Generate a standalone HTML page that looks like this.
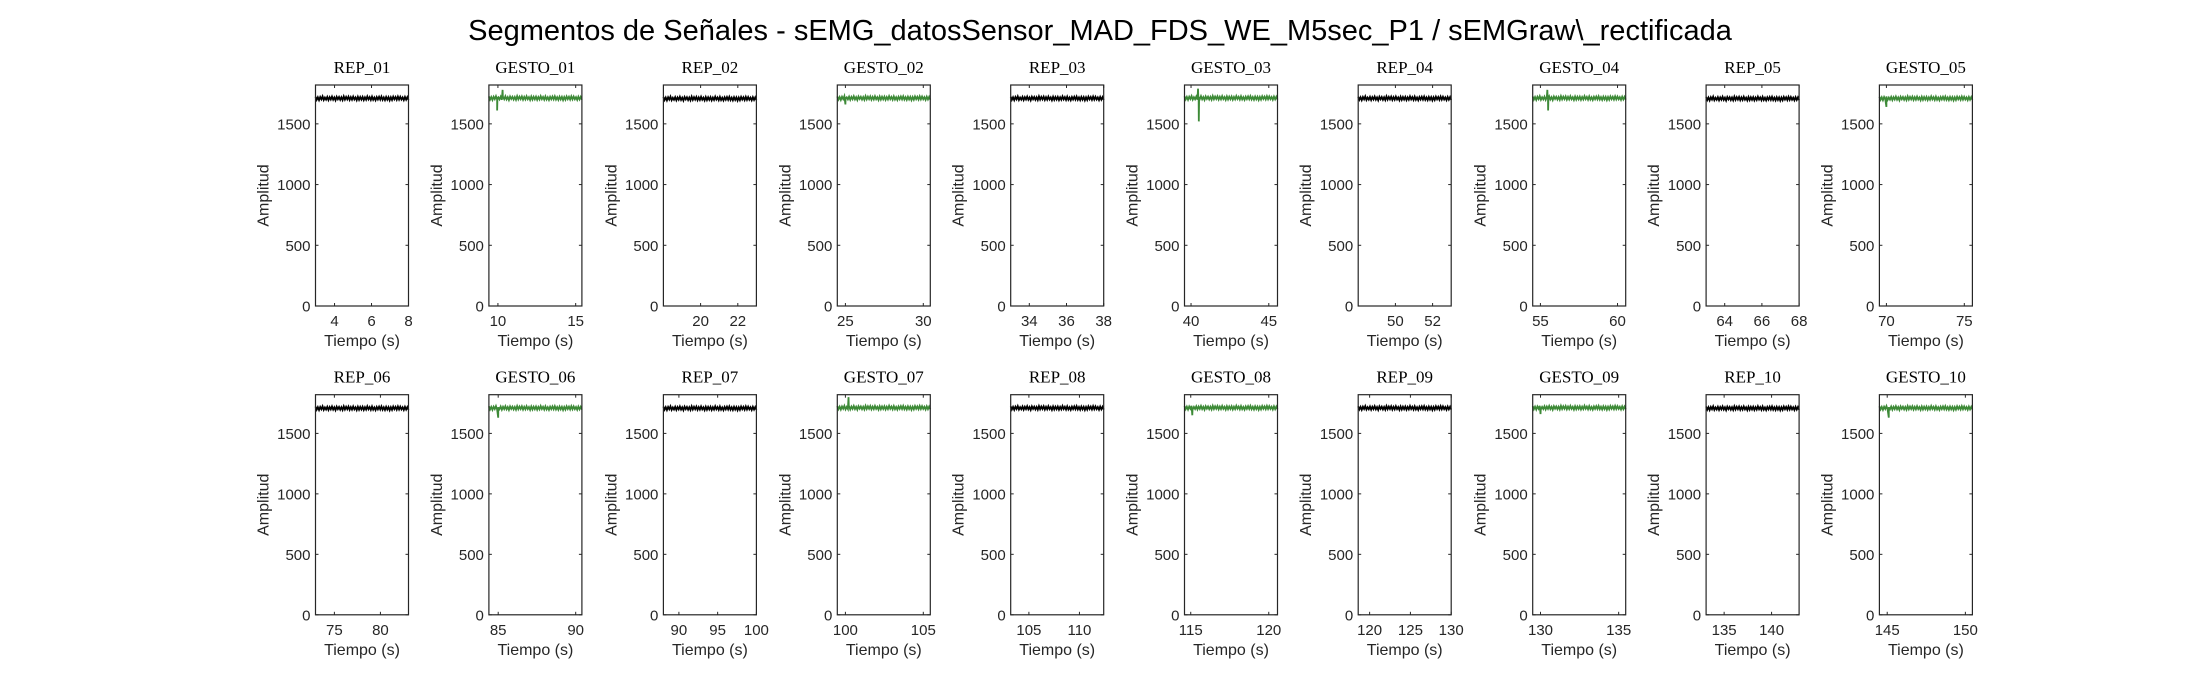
<!DOCTYPE html>
<html><head><meta charset="utf-8"><style>
body{margin:0;background:#fff;}
svg{display:block;font-family:"Liberation Sans",Arial,sans-serif;}
</style></head><body>
<svg id="fig" width="2187" height="688" viewBox="0 0 2187 688">
<text x="1100" y="40" font-size="29" text-anchor="middle" fill="#000">Segmentos de Señales - sEMG_datosSensor_MAD_FDS_WE_M5sec_P1 / sEMGraw\_rectificada</text>
<g id="panels"></g>
</svg>
<script>
const titles=["REP_01","GESTO_01","REP_02","GESTO_02","REP_03","GESTO_03","REP_04","GESTO_04","REP_05","GESTO_05","REP_06","GESTO_06","REP_07","GESTO_07","REP_08","GESTO_08","REP_09","GESTO_09","REP_10","GESTO_10"];
const xMins=[2.97,9.42,18,24.48,33,39.58,48,54.5,63,69.55,72.95,84.4,88,99.48,103.2,114.6,118.6,129.5,133.1,144.5];
const xMaxs=[8,15.4,23,30.45,38,45.56,53,60.53,68,75.52,83.05,90.4,100,105.45,112.4,120.56,130,135.45,142.9,150.45];
const xTicks=[[4,6,8],[10,15],[20,22],[25,30],[34,36,38],[40,45],[50,52],[55,60],[64,66,68],[70,75],[75,80],[85,90],[90,95,100],[100,105],[105,110],[115,120],[120,125,130],[130,135],[135,140],[145,150]];
const levels=[1710,1712,1708,1712,1710,1713,1710,1712,1708,1710,1708,1710,1708,1712,1710,1712,1710,1712,1708,1710];
const noise=[14,-12,9,-15,11,-8,16,-13,7,-10,12,-14,10,-9,15,-11,8,-16,13,-7,11,-12,9,-14,16,-10,12,-8,14,-13,10,-11,15,-9,8,-15,13,-12,11,-10,12,-14,9,-11,16,-8,10,-13,14,-12,7,-15,11,-9,13,-10,15,-12,8,-14,12,-11,10,-16,9,-13,14,-8,11,-12,15,-10,13,-9,8,-14,12,-11,10,-13];
const spikes=[[],[[9.95,1610],[10.3,1780]],[],[[25.0,1660]],[],[[40.5,1520],[40.45,1790]],[],[[55.5,1610],[55.45,1780]],[],[[70.0,1640]],
[],[[85.0,1630]],[],[[100.2,1800]],[],[[115.1,1650]],[],[[130.0,1660]],[],[[145.1,1630]]];
const yTicks=[0,500,1000,1500];
const yMax=1820;
const NS="http://www.w3.org/2000/svg";
const lefts=[315.5,488.9,663.4,837.3,1010.7,1184.5,1358.2,1532.7,1706.1,1879.4];
const W=93;
const rowTop=[85,394.7], rowBot=[306,614.8];
const root=document.getElementById('panels');
function mk(tag,attrs,parent){const e=document.createElementNS(NS,tag);for(const k in attrs)e.setAttribute(k,attrs[k]);parent.appendChild(e);return e;}
for(let i=0;i<titles.length;i++){
  const col=i%10,row=Math.floor(i/10);
  const L=lefts[col],R=L+W,T=rowTop[row],B=rowBot[row];
  const xs=v=>L+(v-xMins[i])/(xMaxs[i]-xMins[i])*W;
  const ys=v=>B-v/yMax*(B-T);
  const g=mk('g',{},root);
  
  
  const tt=mk('text',{x:(L+R)/2,y:T-12,'font-size':17,'text-anchor':'middle','font-family':'"Liberation Serif",serif'},g);
  tt.textContent=titles[i];
  
  
  const pts=[];const n=noise.length;
  const vals=noise.map(d=>levels[i]+d);
  const times=noise.map((d,k)=>xMins[i]+(xMaxs[i]-xMins[i])*k/(n-1));
  const all=times.map((t,k)=>[t,vals[k]]);
  spikes[i].forEach(s=>all.push([s[0],s[1]],[s[0]+0.02,levels[i]]));
  all.sort((a,b)=>a[0]-b[0]);
  all.forEach(p=>pts.push(xs(p[0]).toFixed(2)+','+ys(p[1]).toFixed(2)));
  const green=titles[i].startsWith('GESTO');
  const pl=mk('polyline',{points:pts.join(' '),fill:'none',stroke:green?'#3d8a37':'#000','stroke-width':1.8},g);
  
  
  const bx=mk('rect',{x:L,y:T,width:W,height:B-T,fill:'none',stroke:'#262626','stroke-width':1.2},g);
  
  
  yTicks.forEach(v=>{
    const y=ys(v);
    mk('line',{x1:L,x2:L+3,y1:y,y2:y,stroke:'#262626'},g);
    mk('line',{x1:R-3,x2:R,y1:y,y2:y,stroke:'#262626'},g);
    const t=mk('text',{x:L-5,y:y+5.5,'font-size':15,'text-anchor':'end',fill:'#262626'},g);
    t.textContent=v;
    
    
  });
  xTicks[i].forEach(v=>{
    const x=xs(v);
    mk('line',{x1:x,x2:x,y1:B,y2:B-3,stroke:'#262626'},g);
    mk('line',{x1:x,x2:x,y1:T,y2:T+3,stroke:'#262626'},g);
    const t=mk('text',{x:x,y:B+20,'font-size':15,'text-anchor':'middle',fill:'#262626'},g);
    t.textContent=v;
    
    
  });
  const xl=mk('text',{x:(L+R)/2,y:B+40,'font-size':16,'text-anchor':'middle',fill:'#262626'},g);
  xl.textContent='Tiempo (s)';
  
  
  const cy=(T+B)/2;
  const yl=mk('text',{x:L-47,y:cy,'font-size':16,'text-anchor':'middle',fill:'#262626',transform:`rotate(-90 ${L-47} ${cy})`},g);
  yl.textContent='Amplitud';
  
  
}
</script>
</body></html>
